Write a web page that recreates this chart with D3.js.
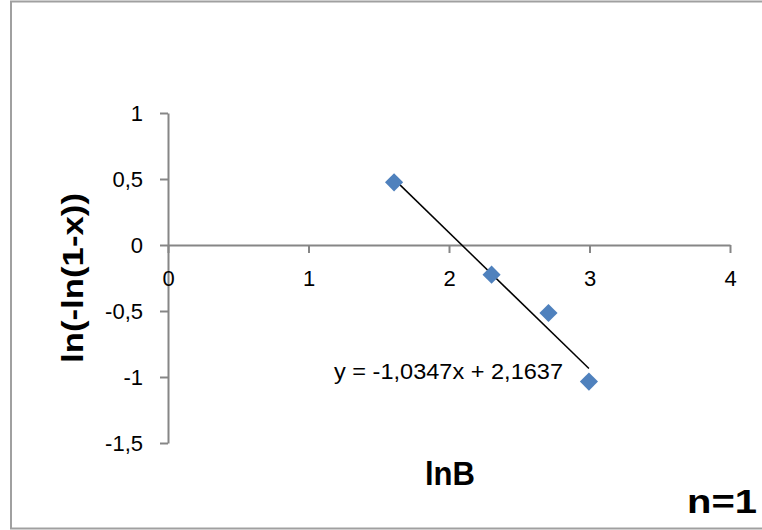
<!DOCTYPE html>
<html>
<head>
<meta charset="utf-8">
<script src="https://cdn.jsdelivr.net/npm/d3@7"></script>
<style>
  body { margin: 0; background: #fff; }
  svg { display: block; }
  text { font-family: "Liberation Sans", Arial, sans-serif; fill: #000; }
</style>
</head>
<body>
<svg width="762" height="530"></svg>
<script>
// data
var lnB = [1.609, 2.303, 2.708, 2.996];
var lnln = [0.475, -0.225, -0.515, -1.035];
var slope = -1.0347, intercept = 2.1637;
var xTicks = [0, 1, 2, 3, 4];
var yTicks = [1, 0.5, 0, -0.5, -1, -1.5];

var svg = d3.select('svg');

var x = d3.scaleLinear().domain([0, 4]).range([168, 730]);
var y = d3.scaleLinear().domain([-1.5, 1]).range([443, 113]);

var fmt = function(d) { return String(d).replace('.', ','); };

// chart frame
svg.append('rect')
    .attr('x', 11).attr('y', 1.5)
    .attr('width', 770).attr('height', 527)
    .attr('fill', 'none')
    .attr('stroke', '#a0a0a0')
    .attr('stroke-width', 2);

// y axis
var yAxis = svg.append('g')
    .attr('transform', 'translate(' + x(0) + ',0)')
    .call(d3.axisLeft(y).tickValues(yTicks).tickSize(8).tickSizeOuter(0).tickFormat(fmt));

// x axis at y = 0
var xAxis = svg.append('g')
    .attr('transform', 'translate(0,' + y(0) + ')')
    .call(d3.axisBottom(x).tickValues(xTicks).tickSize(8).tickSizeOuter(0).tickFormat(fmt));

[yAxis, xAxis].forEach(function(a) {
    a.select('.domain').attr('stroke', '#868686').attr('stroke-width', 2);
    a.selectAll('.tick line').attr('stroke', '#868686').attr('stroke-width', 2);
    a.selectAll('.tick text')
        .attr('font-family', '"Liberation Sans", Arial, sans-serif')
        .attr('font-size', 22)
        .attr('fill', '#000');
});
yAxis.selectAll('.tick text').attr('x', -25).attr('dy', '0.36em');
xAxis.selectAll('.tick text').attr('y', 25).attr('dy', '0.71em');

// trendline
var x0 = d3.min(lnB), x1 = d3.max(lnB);
svg.append('line')
    .attr('x1', x(x0)).attr('y1', y(slope * x0 + intercept))
    .attr('x2', x(x1)).attr('y2', y(slope * x1 + intercept))
    .attr('stroke', '#000')
    .attr('stroke-width', 1.5);

// points
var diamond = d3.symbol().type(d3.symbolSquare).size(165);
svg.selectAll('.pt')
    .data(lnB)
    .enter()
    .append('path')
    .attr('class', 'pt')
    .attr('d', diamond)
    .attr('transform', function(d, i) {
        return 'translate(' + x(d) + ',' + y(lnln[i]) + ') rotate(45)';
    })
    .attr('fill', '#4f81bd');

// equation label
svg.append('text')
    .attr('x', 334).attr('y', 379)
    .attr('font-size', 22)
    .attr('textLength', 229)
    .attr('lengthAdjust', 'spacingAndGlyphs')
    .text('y = -1,0347x + 2,1637');

// axis titles
svg.append('text')
    .attr('x', 425).attr('y', 485)
    .attr('font-size', 34)
    .attr('font-weight', 'bold')
    .attr('textLength', 50)
    .attr('lengthAdjust', 'spacingAndGlyphs')
    .text('lnB');

svg.append('text')
    .attr('transform', 'translate(83,363) rotate(-90)')
    .attr('font-size', 30)
    .attr('font-weight', 'bold')
    .attr('textLength', 170)
    .attr('lengthAdjust', 'spacingAndGlyphs')
    .text('ln(-ln(1-x))');

svg.append('text')
    .attr('x', 687).attr('y', 513)
    .attr('font-size', 33)
    .attr('font-weight', 'bold')
    .attr('textLength', 70)
    .attr('lengthAdjust', 'spacingAndGlyphs')
    .text('n=1');
</script>
</body>
</html>
